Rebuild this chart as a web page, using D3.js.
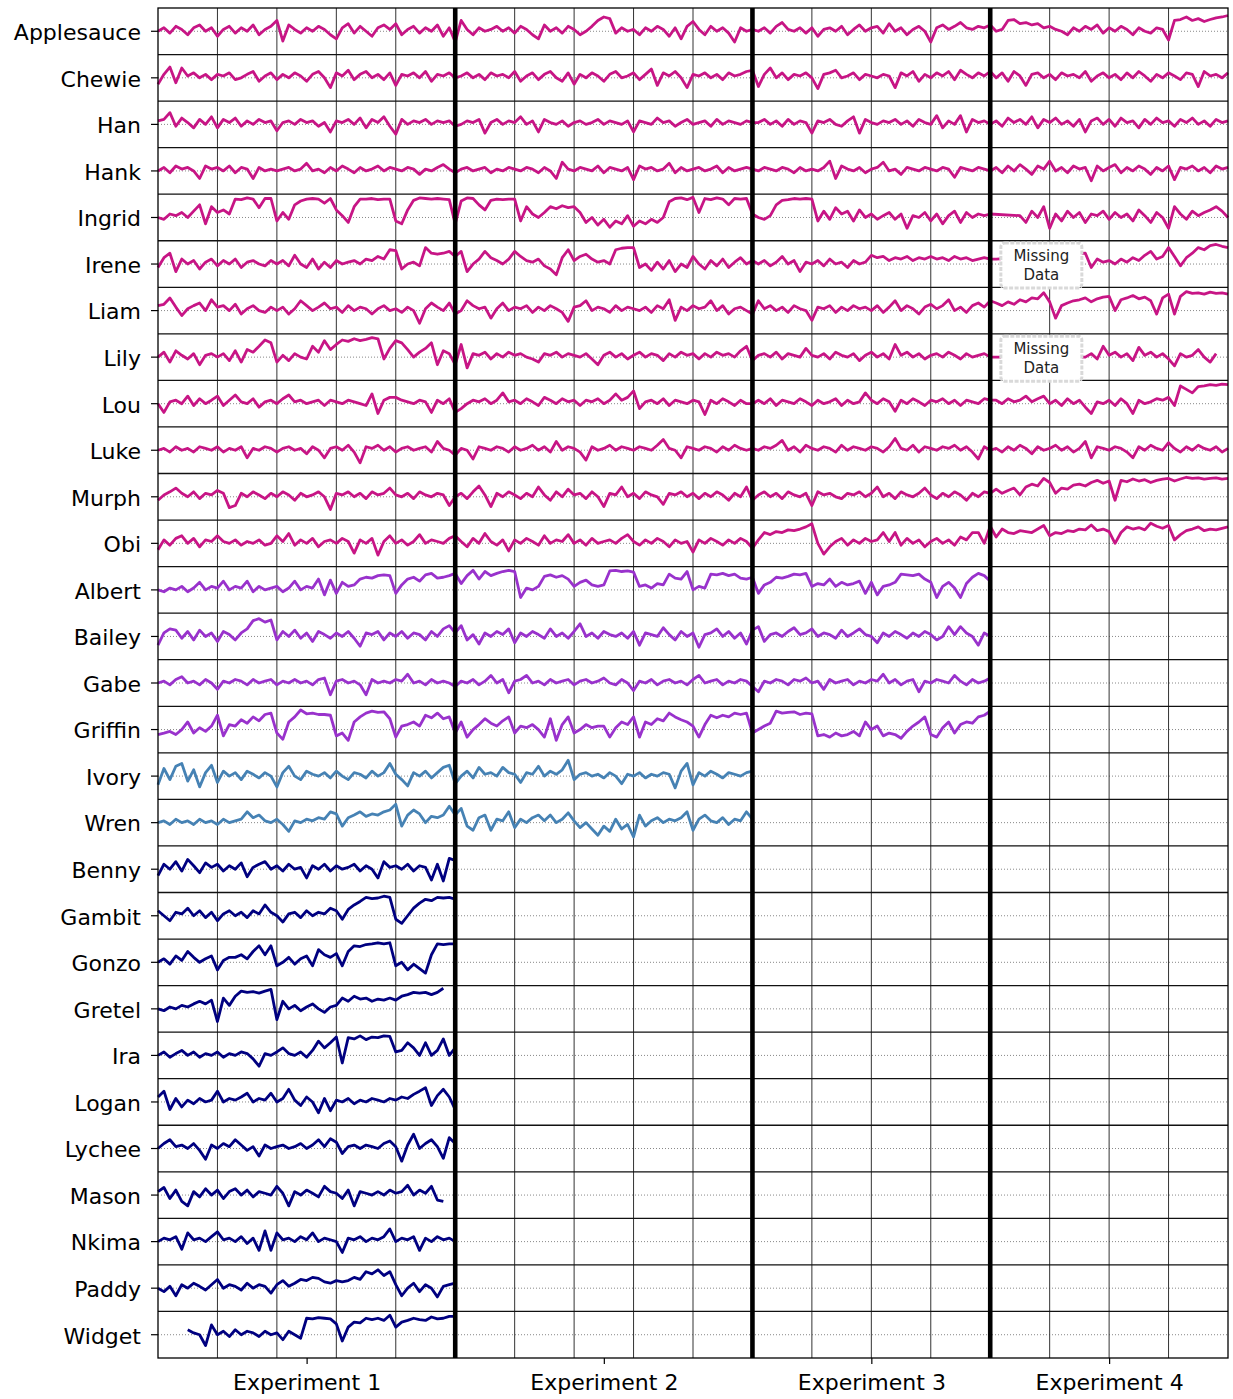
<!DOCTYPE html>
<html>
<head>
<meta charset="utf-8">
<script src="https://cdn.jsdelivr.net/npm/d3@7"></script>
<style>
  body { margin: 0; background: #fff; }
  text { font-family: "DejaVu Sans", sans-serif; }
</style>
</head>
<body>
<svg id="chart" width="1233" height="1399"></svg>
<script>
// ---- categories ----
const experiments = ['Experiment 1', 'Experiment 2', 'Experiment 3', 'Experiment 4'];
const experimentBounds = [0, 5, 10, 14, 18];      // in grid units
const experimentTicks = [2.5, 7.5, 12, 16];
const samplesPerUnit = 10;

const cohortMagenta = ['Applesauce', 'Chewie', 'Han', 'Hank', 'Ingrid', 'Irene', 'Liam', 'Lily', 'Lou', 'Luke', 'Murph', 'Obi'];
const cohortPurple = ['Albert', 'Bailey', 'Gabe', 'Griffin'];
const cohortBlue = ['Ivory', 'Wren'];
const cohortNavy = ['Benny', 'Gambit', 'Gonzo', 'Gretel', 'Ira', 'Logan', 'Lychee', 'Mason', 'Nkima', 'Paddy', 'Widget'];
const missingLabels = ['Irene', 'Lily'];
const missingAt = 14.86;

// ---- series values (offset above the row baseline, one per 0.1 unit) ----
const N14 = [null, null, null, null, null, null, null, null, null, null, null, null, null, null];

const applesauce = [
  0,2,-1,3,1,-2,2,4,0,2, -3,1,3,-1,2,0,4,-2,1,3, 8,-7,4,1,-1,2,0,3,1,-2, -5,2,5,-1,3,0,-3,2,4,1, 5,-2,1,3,-1,2,0,4,-3,2, -8,
  8,1,-2,2,0,1,3,0,2,-1, 3,1,-2,-5,4,0,2,-1,3,1, -2,0,3,8,12,10,-1,2,0,1, -2,2,0,3,1,-3,2,-5,3,7, 1,-2,3,0,2,-1,-8,2,0,1,
  0,2,-1,3,6,1,0,2,-1,2, -3,1,2,0,3,-2,1,4,0,2, 3,-1,5,0,2,-2,1,3,0,-8, 2,4,1,3,6,2,1,3,2,4,
  0,1,8,9,5,6,4,5,2,3, 1,0,-2,2,0,3,1,4,-1,2, 0,3,1,-2,2,0,-1,2,1,-6, 8,9,12,8,10,7,9,11,12,14
];
const chewie = [
  -4,2,8,-3,7,1,3,0,2,-1, 2,1,3,-1,0,2,4,-2,1,3, -1,2,0,3,1,-2,2,4,0,-7, 3,1,5,-1,2,4,0,2,-1,3, -5,2,1,3,0,4,-2,2,1,3, 0,
  1,3,0,2,-1,3,1,2,0,4, -2,1,3,-1,2,4,0,-2,3,-4, 2,0,3,1,-2,2,4,0,1,3, -1,2,6,-5,3,1,4,0,-7,2, 1,3,0,2,-1,3,1,2,4,5,
  -6,2,7,0,3,-1,2,1,3,0, -8,2,3,5,0,1,3,-1,2,1, 0,2,1,-7,3,1,4,-2,2,0, 3,1,4,-1,5,2,0,3,1,4,
  0,3,-2,4,1,-5,2,3,0,2, -1,3,1,2,0,4,-2,1,3,0, 2,-1,3,0,4,1,-2,2,0,3, 1,-1,3,2,-6,4,1,2,0,3
];
const han = [
  2,3,9,-1,4,1,-2,3,0,5, -2,3,1,4,-1,2,0,3,1,2, -4,1,2,0,3,1,2,-1,1,-5, 2,1,3,0,4,-2,3,1,5,-1, -7,3,0,2,1,3,0,2,1,2, -1,
  0,2,1,3,-6,1,3,0,2,1, 5,0,2,-5,3,1,0,2,-1,1, 2,0,1,3,0,2,1,0,2,-5, 2,1,0,4,1,2,-1,1,3,0, 1,2,-1,3,0,2,1,0,2,1,
  1,3,0,2,-1,3,0,2,1,-6, 2,1,3,0,-1,2,5,-6,3,1, 0,2,1,3,0,2,-1,3,1,0, 6,-2,2,0,6,-5,3,1,2,0,
  2,-1,4,1,3,0,5,-2,3,1, 4,0,2,-1,3,-5,2,4,0,3, -1,4,1,2,-2,3,0,4,1,2, -1,3,1,4,0,2,-1,3,1,2
];
const hank = [
  0,2,-1,3,1,2,0,-5,3,1, 2,0,3,-1,2,1,-5,2,0,1, 0,1,2,0,1,5,0,1,-1,2, 0,3,1,-1,2,0,1,3,0,2, 1,0,2,1,-2,1,0,2,4,1, -1,
  1,2,0,1,2,-1,1,0,2,1, 0,2,1,-1,2,0,-5,6,1,0, 2,1,0,3,-1,2,1,0,2,-6, 3,1,2,0,1,5,-1,2,0,1, 2,0,1,3,-1,2,0,1,2,1,
  0,2,1,0,2,1,-1,2,0,1, 0,2,7,-5,3,1,0,2,-1,1, 2,6,0,1,-2,2,1,0,2,1, 0,2,1,-4,2,1,0,2,1,0,
  2,-1,3,0,4,1,-2,3,1,7, 0,2,-1,3,1,2,-7,3,0,2, 4,-1,2,0,3,1,-2,2,0,3, -6,2,1,3,0,2,-1,3,1,2
];
const ingrid = [
  0,-1,2,1,3,0,4,10,-4,8, 3,5,2,18,17,20,18,7,19,19, -2,3,-1,10,15,18,19,18,12,19, 5,1,-3,8,18,18,19,17,18,18, -2,-4,5,16,20,19,18,19,18,17, -4,
  15,20,19,10,5,16,18,17,18,18, -2,8,2,0,3,8,6,9,7,8, 3,-3,0,-5,-1,-7,-2,-4,1,-6, -2,-4,-1,-3,0,14,19,20,17,21, 3,19,17,20,18,10,19,18,19,2,
  0,-1,1,10,16,17,19,18,19,18, -2,4,-1,7,2,4,-2,5,0,2, -1,1,3,-1,2,-8,1,0,3,-2, 2,-4,1,4,-3,3,0,2,1,2,
  null,null,null,null,1,-3,4,0,8,-8, 2,-2,4,0,3,-3,2,1,4,-1, 3,0,2,-2,5,1,-3,3,0,-8, 8,2,-1,4,1,3,5,8,4,0
];
const irene = [
  -2,4,8,-5,3,0,2,-3,1,3, -1,2,0,3,-2,1,2,0,-1,2, 0,2,-1,6,0,-2,3,-3,1,-2, 2,0,1,2,0,3,2,5,3,12, 11,-3,0,1,-1,15,8,7,8,10, 5,
  10,-5,0,3,10,4,2,0,3,10, 5,2,1,3,-1,-3,-8,4,12,2, 5,7,3,1,2,0,12,14,15,15, -2,0,-4,1,-3,2,-5,0,-2,5, 0,-3,2,-1,3,-2,1,4,0,2,
  0,2,-1,1,5,0,2,-5,1,0, 2,-1,3,0,1,-2,2,0,1,6, 4,5,2,4,3,5,2,4,3,5, 3,4,2,5,3,4,2,3,4,3,
  3, ...N14, 8,-2,3,1,2, 0,3,1,4,2,6,10,3,5,15, 5,-1,4,8,15,12,18,20,17,15
];
const liam = [
  3,4,10,2,-3,1,3,5,0,8, 2,3,0,4,-2,1,3,0,-1,2, 0,2,-2,1,7,3,0,2,5,1, 2,-1,3,0,2,1,-2,1,3,0, 1,-1,2,0,-10,1,5,2,0,5, -2,
  0,7,3,1,2,-5,1,5,0,2, 1,3,-1,2,0,3,1,-1,-8,2, 3,7,0,2,1,-1,3,0,2,1, 0,2,-1,3,1,8,-7,2,0,3, 1,2,7,0,3,-2,1,2,0,-2,
  7,1,3,0,2,-1,3,1,0,-7, 2,1,3,-1,2,0,3,1,2,0, 3,-1,2,7,0,3,1,-2,2,4, 1,3,8,0,2,-1,3,5,2,7,
  5,3,6,4,8,6,10,9,17,6, -5,3,5,7,8,10,6,9,11,12, 0,8,10,13,9,11,7,-2,10,15, -2,12,19,16,17,15,18,16,17,15
];
const lily = [
  0,3,-3,4,1,-1,2,-5,1,2, 0,2,-2,4,-3,5,3,8,16,12, -3,1,-2,2,0,-1,8,3,15,5, 10,16,14,18,15,17,20,18,-1,6, 15,12,5,0,3,6,12,-5,4,2, -5,
  10,-8,2,1,3,-1,2,0,3,1, 2,0,-1,-3,2,1,3,0,2,1, 0,2,-1,-5,1,3,0,2,-1,1, 3,0,2,1,-2,2,0,3,1,2, -1,2,0,3,1,2,0,4,8,-2,
  1,2,0,3,-1,2,1,0,6,1, 0,2,-1,3,1,0,2,-2,1,3, 0,2,-1,10,1,3,0,2,-1,1, 2,0,3,1,-1,2,0,1,2,0,
  0, ...N14, 0,2,-1,8,1, 3,0,2,-2,7,1,3,0,2,-1, -6,2,0,1,5,0,-3,2
];
const lou = [
  0,-6,1,2,0,5,-1,3,0,2, 5,-1,2,6,1,0,3,-2,1,2, 0,3,6,1,2,0,1,2,-1,2, 1,0,2,1,0,-1,7,-7,2,4, 4,2,1,0,2,1,-6,2,0,3, -6,
  -3,0,2,1,3,0,2,8,1,2, 0,3,1,-1,4,2,0,3,1,2, -1,2,1,3,0,2,7,2,4,10, -3,1,2,0,3,-1,2,1,0,2, 1,-8,2,0,3,1,-1,2,0,0,
  2,0,3,-1,2,1,0,3,1,-1, 2,0,1,3,-1,2,0,1,8,2, 0,3,1,-5,2,0,3,1,-1,2, 1,3,0,2,-1,2,1,0,3,2,
  2,0,3,1,2,5,1,3,5,0, 2,-1,3,0,2,-2,-7,1,0,2, -1,3,0,-7,2,0,1,3,2,4, -1,17,12,8,16,17,19,18,20,19
];
const luke = [
  0,1,-1,2,0,1,-1,2,1,0, 2,-1,1,0,2,-5,1,0,2,1, -1,1,2,0,1,-2,2,0,-5,1, 2,0,3,-1,-10,2,1,3,0,2, -1,1,2,0,1,2,-1,6,1,0, -3,
  1,0,-6,2,1,0,2,1,-1,2, 0,1,3,0,2,-1,6,0,2,1, -1,-7,2,0,1,3,0,2,1,0, 2,1,0,3,8,1,0,-5,2,1, 0,2,1,-1,2,0,3,1,0,1,
  0,2,1,3,7,0,2,-1,3,1, 0,2,1,-1,3,0,2,1,0,2, 1,-1,2,9,1,0,3,-1,2,1, 0,2,1,3,0,2,-1,-6,2,0,
  1,-1,2,0,3,1,-2,2,0,1, 3,0,2,-1,1,6,-5,2,1,0, 2,1,-1,-5,2,0,3,1,0,5, 1,-1,2,0,3,1,0,2,-1,1
];
const murph = [
  -2,1,3,6,2,0,3,-1,2,1, 4,2,-8,-6,2,0,3,1,-1,2, 0,3,1,-2,2,0,1,3,0,-10, 2,1,3,0,2,-1,3,1,2,6, 1,0,2,-1,3,1,0,2,1,-6, 0,
  2,-1,3,8,1,-7,2,0,3,1, -1,2,0,7,1,-2,3,0,5,1, 2,-1,3,0,-7,2,1,7,0,2, -1,3,1,0,-5,2,1,3,0,2, -1,2,0,3,1,-2,2,0,7,-2,
  1,3,0,2,-1,3,1,0,2,-6, 3,1,2,0,-1,2,1,3,0,2, 7,0,2,-1,3,1,0,2,6,1, -1,2,0,3,1,-2,2,0,3,2,
  5,2,4,6,1,7,10,8,18,12, 2,6,5,9,10,8,12,15,11,14, -2,15,13,17,14,16,12,15,17,18, 14,17,20,18,19,17,18,19,17,18
];
const obi = [
  -4,2,-1,3,5,0,3,-2,2,1, 5,1,0,2,-1,1,0,2,-1,0, 5,1,7,-1,2,0,3,-2,1,2, 0,3,1,-7,2,0,3,-9,1,5, 0,2,-1,1,6,0,2,1,0,3, 5,
  1,-2,3,0,7,1,-1,2,-5,2, 0,3,1,-1,5,0,2,1,6,0, 2,-1,3,0,1,2,0,3,6,1, -1,2,0,3,1,-2,2,0,1,-6, 2,0,3,1,-1,2,0,3,1,-3,
  2,8,6,9,8,11,10,12,15,20, 0,-8,-2,1,3,-1,2,0,3,1, 2,8,1,8,-1,3,0,2,-2,1, 3,0,2,-1,4,2,8,8,0,16,
  4,12,8,7,10,9,8,12,17,5, 8,7,10,9,12,11,18,10,12,9, 0,8,15,12,14,11,21,16,13,17, 2,6,10,12,15,10,12,11,13,15
];
const albert = [
  0,-1,1,0,2,-1,1,5,0,2, 1,6,0,2,1,6,-1,2,0,1, 2,-1,1,6,0,2,1,8,-3,7, -2,5,2,3,8,10,9,12,13,12, -2,3,8,10,6,13,15,9,10,12, 15,
  4,12,20,8,18,12,15,18,20,18, -5,1,0,2,11,13,10,12,8,2, 5,7,3,2,3,19,20,18,19,17, 2,3,1,4,3,14,9,8,18,0, 2,1,14,13,15,12,14,9,8,10,
  -2,3,5,10,9,11,14,13,15,2, 4,3,8,2,5,3,4,6,-2,5, -3,2,3,5,14,13,12,14,8,5, -5,2,5,1,-5,4,10,15,12,6
];
const bailey = [
  -6,2,5,4,-1,3,-2,4,0,2, -3,3,1,-2,2,5,14,17,12,15, -2,3,0,4,-1,2,-3,3,1,-1, 2,0,3,-1,-7,2,1,3,-2,2, 0,3,-1,2,1,-2,3,0,5,8, 2,
  8,-2,1,-5,2,0,3,1,5,-4, 2,0,3,1,-1,5,0,2,-1,3, 10,0,2,-1,3,1,0,2,-1,3, -6,2,1,0,6,1,-2,3,0,2, -8,1,2,5,0,3,-1,2,-5,4,
  7,-3,1,2,0,3,6,1,2,5, 0,2,1,-1,4,0,2,5,1,0, -4,2,0,3,1,-1,2,0,3,1, -2,0,7,1,7,2,0,-6,2,0
];
const gabe = [
  0,1,-1,2,4,0,1,-1,2,0, -4,1,0,2,1,-1,2,0,1,2, -1,1,0,2,0,1,-1,2,3,-9, 1,2,0,1,-1,-9,2,0,1,0, 2,1,6,0,1,-1,2,0,1,0, -2,
  1,0,2,-1,1,5,0,2,-7,1, 2,5,0,1,-1,2,0,1,2,-1, 1,2,0,1,3,0,-1,2,0,-5, 1,0,2,-1,1,2,0,1,-1,2, 5,0,1,2,-1,1,0,2,1,-2,
  -6,1,0,2,1,-1,2,1,3,0, 1,-4,2,0,1,2,-1,1,0,2, 1,6,0,2,-1,1,2,-6,1,0, 2,1,0,5,1,-1,2,0,1,3
];
const griffin = [
  -3,-2,-1,-3,0,5,-2,1,-1,2, 12,-4,3,2,7,4,10,6,13,15, -2,-7,5,10,20,14,15,13,13,12, -4,-2,-8,5,10,15,18,16,17,8, -5,2,3,5,2,12,9,15,8,10, -2,
  5,-5,0,3,8,4,2,6,10,-2, 2,1,3,0,-5,8,-8,3,10,-2, 0,3,1,2,2,-5,1,5,3,10, -5,5,3,8,6,15,10,7,5,2, -5,3,12,9,12,10,15,13,15,-2,
  0,2,4,18,15,16,17,13,15,14, -4,-3,-5,-2,-4,-3,-1,-4,5,0, 2,-4,-2,-3,-6,-1,2,5,10,-3, -5,1,5,-2,3,5,4,10,12,18
];
const ivory = [
  -6,5,-2,7,10,-3,4,-8,2,8, -4,3,0,2,-2,3,1,-1,2,0, -8,2,7,0,-2,3,1,0,2,-1, 3,0,-2,2,1,-1,3,0,2,10, 1,-2,-7,2,0,3,-1,2,6,8, -5,
  0,3,-1,6,1,2,0,6,2,1, -4,2,1,7,0,3,1,4,14,-2, 1,2,0,1,-1,2,0,-5,1,0, 2,-1,1,0,2,1,-9,3,10,-6, 2,0,3,1,-1,2,1,0,2,3
];
const wren = [
  0,1,-1,2,0,1,-1,2,0,1, -1,2,0,1,2,8,3,5,1,0, 2,-1,-6,1,0,2,1,3,2,8, 6,-2,3,5,8,4,6,5,8,10, 18,-2,5,10,6,0,4,3,5,15, 5,
  12,-2,-5,3,5,-5,2,1,8,-3, 2,0,3,5,1,5,0,2,7,1, -3,0,-4,-10,-2,-6,2,-4,-1,-12, 5,-2,1,3,0,2,1,3,8,-5, 2,5,1,0,3,-1,2,1,8,2
];
const benny = [
  -4,3,0,5,-1,7,2,-2,4,1, 3,-1,2,0,4,-5,1,3,5,0, 2,-1,3,0,1,-6,2,0,3,-1, 2,0,1,3,-1,2,0,-6,5,1, 2,0,3,-1,2,1,-8,3,-9,8, 6
];
const gambit = [
  3,0,-3,2,1,5,0,3,-1,2, -3,1,3,0,2,-1,3,1,8,2, 0,-4,1,2,-1,3,0,2,1,5, 3,-2,4,8,12,18,16,17,20,18, -2,-5,0,5,10,15,13,18,17,18, 15
];
const gonzo = [
  0,2,-1,4,1,8,3,0,2,4, -5,1,3,3,5,2,8,15,5,15, -2,0,3,-1,2,4,-2,10,5,3, 6,-2,8,15,14,17,18,20,18,20, -2,0,-5,-1,-4,-8,5,18,17,18, 18
];
const gretel = [
  0,-1,1,0,2,1,3,5,3,6, -10,8,2,10,17,15,16,14,17,20, -8,5,0,2,-1,1,3,0,-2,1, 2,8,5,10,7,8,5,7,6,8, 6,10,12,15,14,15,12,15,22
];
const ira = [
  0,2,-1,1,3,0,2,-1,1,0, 2,-1,1,0,2,1,-2,-8,1,0, 2,5,1,0,2,-1,3,12,5,10, 18,-5,17,15,20,14,18,17,20,19, 2,3,10,5,0,10,0,3,15,0, 5
];
const logan = [
  3,8,-5,2,-3,1,-1,2,0,1, 8,0,2,1,3,6,0,2,1,6, 0,2,10,1,-2,3,0,-8,2,-6, 1,0,2,-1,1,0,2,1,0,2, 1,3,2,5,8,12,-2,4,10,3, -5
];
const lychee = [
  0,3,6,1,2,0,3,-1,-8,2, 0,3,1,6,2,-1,1,-5,2,0, 1,2,0,1,3,0,2,6,1,7, 4,-3,1,2,0,2,1,0,3,5, 1,-10,2,12,0,3,6,1,-7,8, 3
];
const mason = [
  2,5,-2,3,-4,-8,2,-1,4,0, 3,-2,2,4,0,3,-1,2,1,0, 6,1,-8,2,0,3,1,-1,6,2, 1,-2,3,-8,2,1,0,2,0,3, 1,2,7,0,3,1,6,-3,-4
];
const nkima = [
  0,2,1,3,-5,6,1,2,0,3, 7,1,2,0,3,-1,2,-6,8,-6, 6,1,2,0,3,1,6,0,2,1, 0,-8,2,1,3,0,2,1,3,10, 0,2,1,3,-6,2,0,3,1,2, 0
];
const paddy = [
  0,-2,1,-5,2,0,3,1,-1,2, 6,0,2,1,-1,3,0,2,1,-3, 2,5,1,3,6,5,8,7,4,3, 5,4,5,8,6,15,12,18,10,15, 2,-5,0,3,-2,2,0,-6,1,2, 3
];
const widget = [
  null,null,null,null,null,3,1,0,-8,7, 0,2,-1,3,0,2,1,-1,2,0, 1,-3,2,0,-2,15,14,16,15,14, 8,-4,5,10,9,15,13,15,12,20, 5,10,12,15,13,12,17,14,15,18, 18
];

const seriesValues = [
  applesauce, chewie, han, hank, ingrid, irene, liam, lily, lou, luke, murph, obi,
  albert, bailey, gabe, griffin,
  ivory, wren,
  benny, gambit, gonzo, gretel, ira, logan, lychee, mason, nkima, paddy, widget
];

const cohorts = [
  { names: cohortMagenta, color: '#c71585' },
  { names: cohortPurple, color: '#9932cc' },
  { names: cohortBlue, color: '#4682b4' },
  { names: cohortNavy, color: '#000080' }
];
const names = cohorts.flatMap(c => c.names);
const colorOf = new Map(cohorts.flatMap(c => c.names.map(n => [n, c.color])));

// ---- layout ----
const W = 1233, H = 1399;
const margin = { left: 158, right: 5, top: 8, bottom: 41 };
const width = W - margin.left - margin.right;
const height = H - margin.top - margin.bottom;

const svg = d3.select('#chart');
const g = svg.append('g').attr('transform', `translate(${margin.left},${margin.top})`);

const x = d3.scaleLinear().domain([0, 18]).range([0, width]);
const row = d3.scaleBand().domain(names).range([0, height]);
const half = row.bandwidth() / 2;
// symlog keeps the small jitter visible while the big steps stay inside the row
const v = d3.scaleSymlog().constant(8).domain([-25, 25]).range([half + 22.1, half - 22.1]);

// dotted baselines
g.append('g').selectAll('line')
  .data(names).join('line')
  .attr('x1', 0).attr('x2', width)
  .attr('y1', d => row(d) + v(0)).attr('y2', d => row(d) + v(0))
  .attr('stroke', '#888').attr('stroke-width', 1)
  .attr('stroke-dasharray', '1,2');

// thin vertical grid
const thinUnits = d3.range(1, 18).filter(u => !experimentBounds.includes(u));
g.append('g').selectAll('line')
  .data(thinUnits).join('line')
  .attr('x1', d => x(d)).attr('x2', d => x(d))
  .attr('y1', 0).attr('y2', height)
  .attr('stroke', '#333').attr('stroke-width', 1);

// row separators
g.append('g').selectAll('line')
  .data(names.slice(1)).join('line')
  .attr('x1', 0).attr('x2', width)
  .attr('y1', d => row(d)).attr('y2', d => row(d))
  .attr('stroke', '#111').attr('stroke-width', 1.3);

// series lines (nulls are skipped and the gap bridged)
const line = d3.line()
  .x(d => x(d.i / samplesPerUnit))
  .y(d => v(d.val));

names.forEach((name, r) => {
  const pts = seriesValues[r]
    .map((val, i) => ({ i, val }))
    .filter(d => d.val !== null);
  g.append('path')
    .datum(pts)
    .attr('transform', `translate(0,${row(name)})`)
    .attr('fill', 'none')
    .attr('stroke', colorOf.get(name))
    .attr('stroke-width', 2.8)
    .attr('stroke-linejoin', 'round')
    .attr('d', line);
});

// experiment separators
g.append('g').selectAll('line')
  .data(experimentBounds.slice(1, -1)).join('line')
  .attr('x1', d => x(d)).attr('x2', d => x(d))
  .attr('y1', 0).attr('y2', height)
  .attr('stroke', '#000').attr('stroke-width', 4.6);

// missing data labels
missingLabels.forEach(name => {
  const lab = g.append('g')
    .attr('transform', `translate(${x(missingAt)},${row(name) + v(0)})`);
  lab.append('rect')
    .attr('x', -40.5).attr('y', -21).attr('width', 81).attr('height', 45)
    .attr('rx', 4)
    .attr('fill', '#fff').attr('stroke', '#d9d9d9')
    .attr('stroke-width', 3).attr('stroke-dasharray', '4,1.5');
  lab.append('text').attr('text-anchor', 'middle').attr('y', -3)
    .attr('font-size', 15).attr('fill', '#222').text('Missing');
  lab.append('text').attr('text-anchor', 'middle').attr('y', 16)
    .attr('font-size', 15).attr('fill', '#222').text('Data');
});

// frame
g.append('rect')
  .attr('width', width).attr('height', height)
  .attr('fill', 'none').attr('stroke', '#000').attr('stroke-width', 1.3);

// axes
const yAxis = g.append('g')
  .call(d3.axisLeft(row).tickSize(7).tickPadding(10));
yAxis.select('.domain').remove();
yAxis.selectAll('text').attr('font-size', 22).attr('fill', '#000').attr('dy', '0.4em')
  .style('font-family', '"DejaVu Sans", sans-serif');
yAxis.selectAll('line').attr('stroke-width', 1.2);

const xAxis = g.append('g')
  .attr('transform', `translate(0,${height})`)
  .call(d3.axisBottom(x)
    .tickValues(experimentTicks)
    .tickFormat((d, i) => experiments[i])
    .tickSize(6).tickPadding(10));
xAxis.select('.domain').remove();
xAxis.selectAll('text').attr('font-size', 22).attr('fill', '#000')
  .style('font-family', '"DejaVu Sans", sans-serif');
xAxis.selectAll('line').attr('stroke-width', 1.2);
</script>
</body>
</html>
